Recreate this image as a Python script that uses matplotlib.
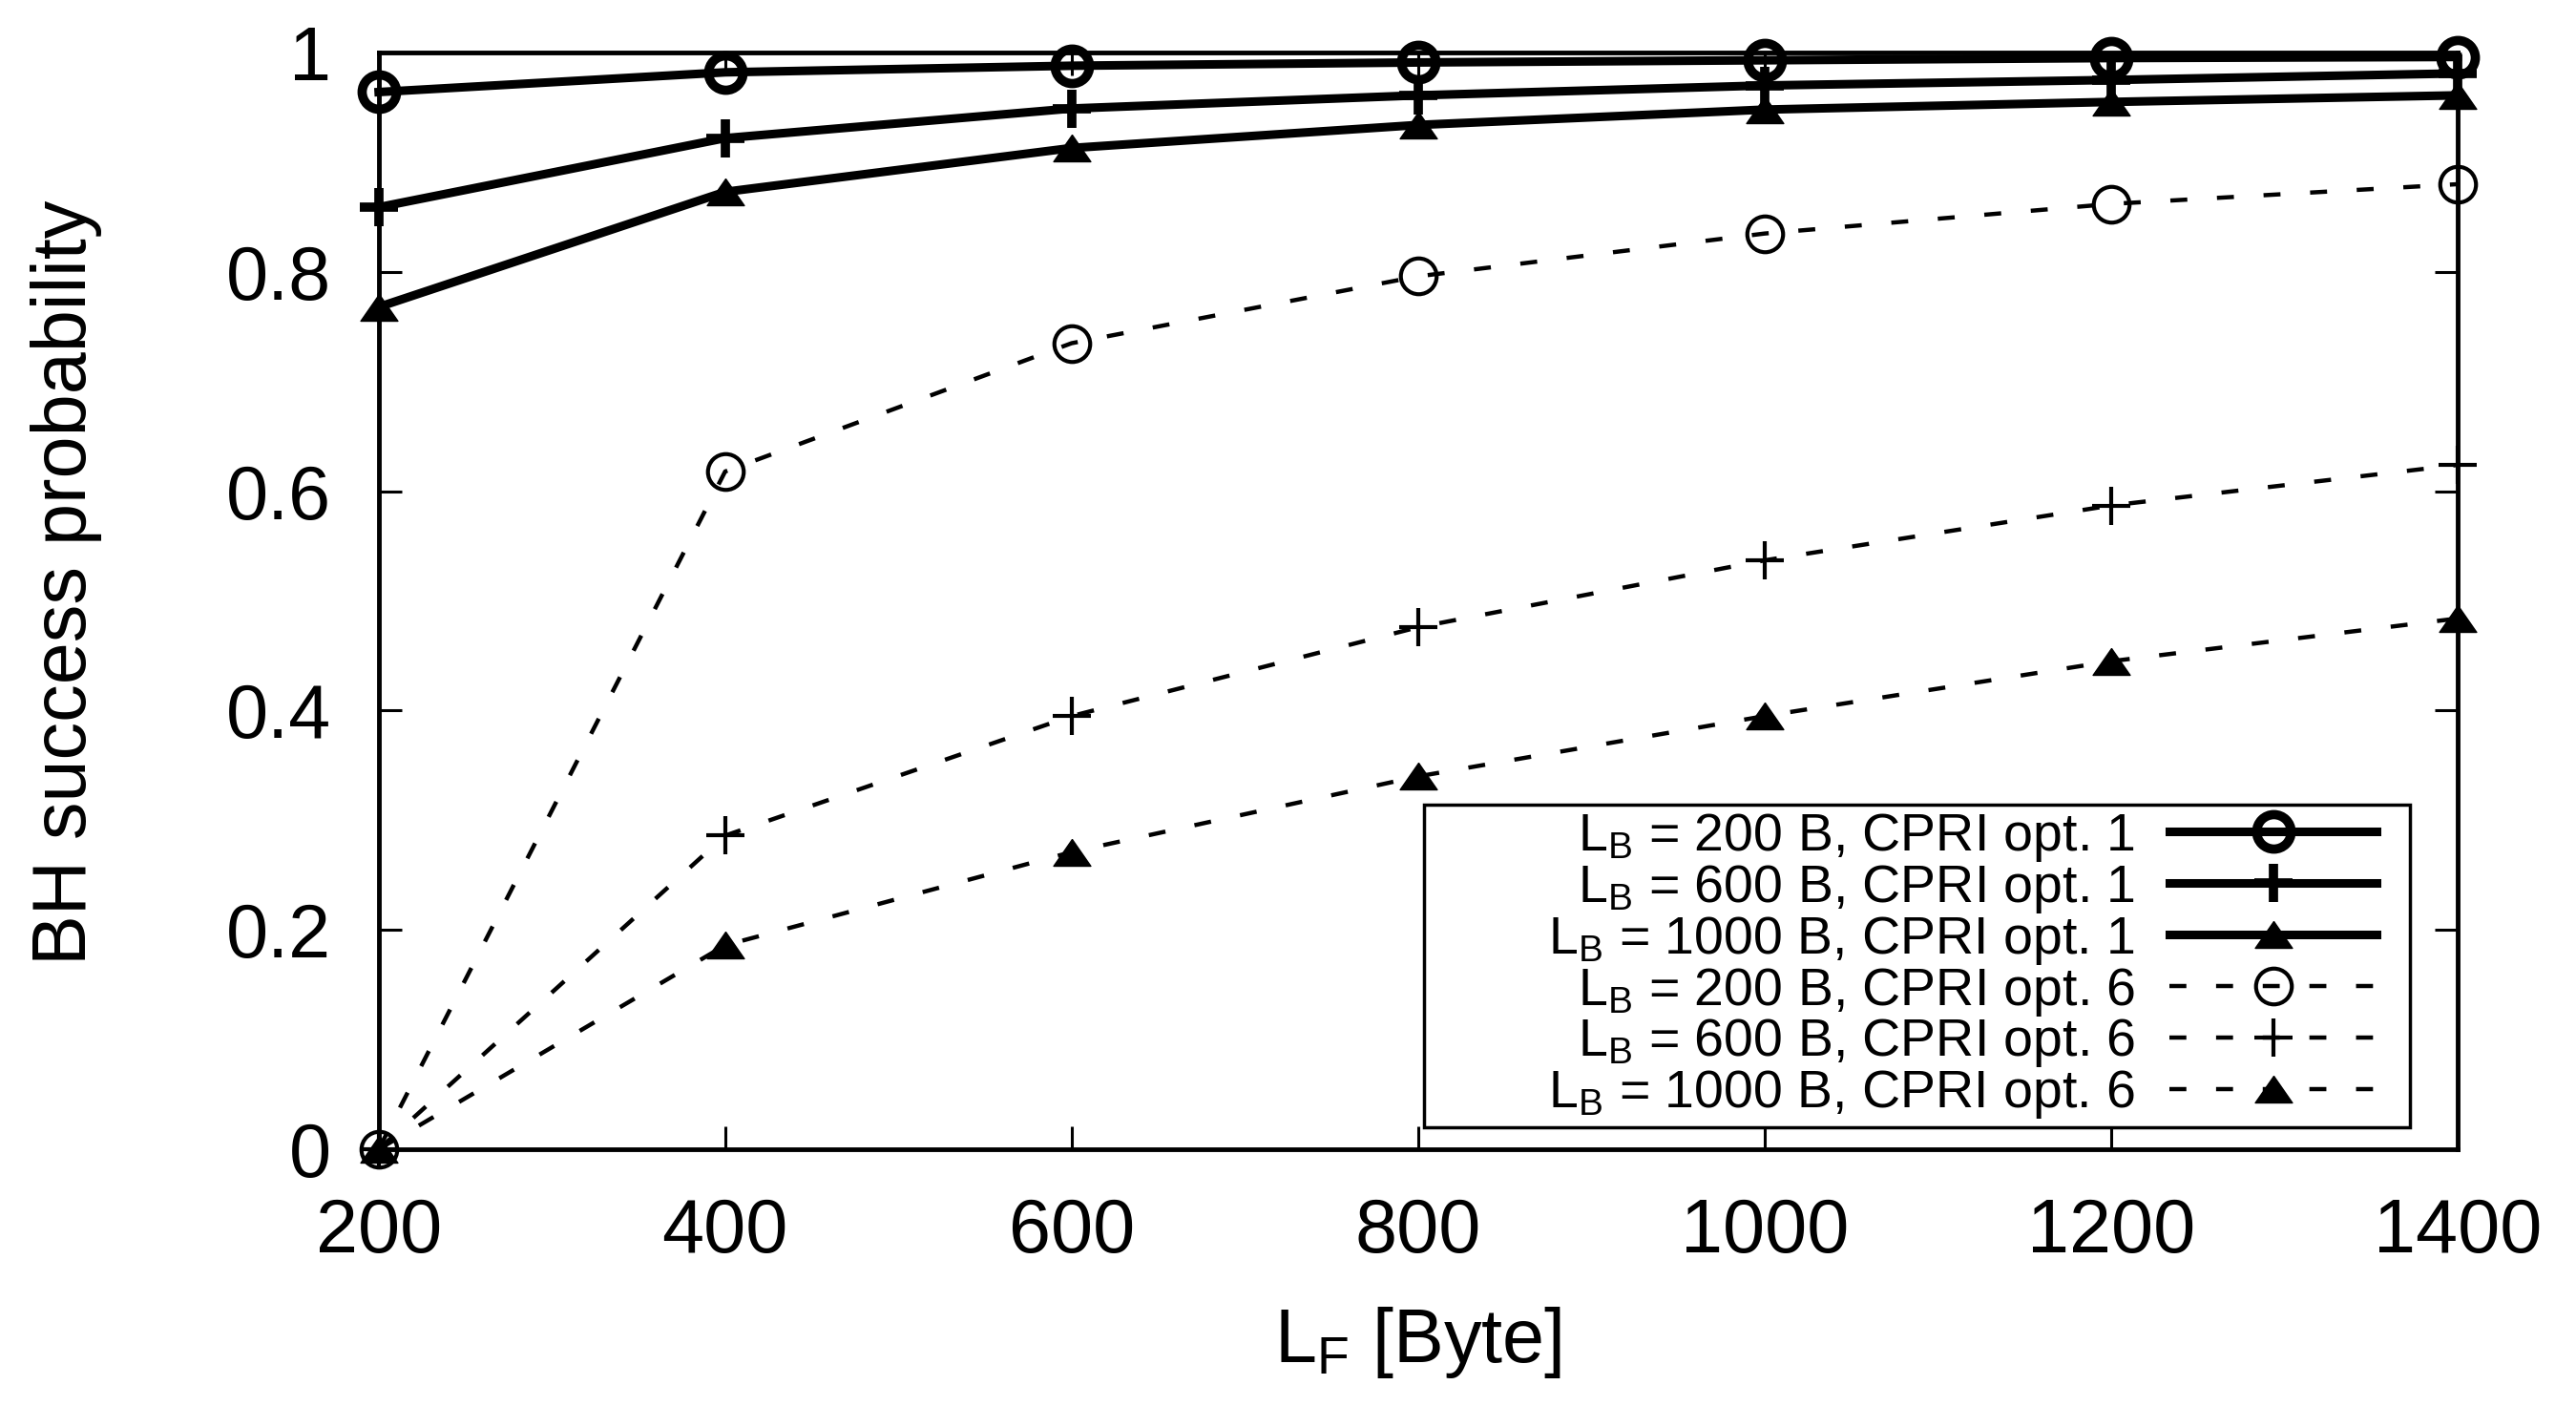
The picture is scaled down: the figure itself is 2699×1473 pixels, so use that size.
import matplotlib
matplotlib.use("Agg")
import matplotlib.pyplot as plt
from matplotlib.patches import Rectangle

plt.rcParams["font.family"] = ["Liberation Sans", "DejaVu Sans"]
plt.rcParams["mathtext.fontset"] = "custom"
plt.rcParams["mathtext.rm"] = "Liberation Sans"
plt.rcParams["mathtext.it"] = "Liberation Sans:italic"

# frame length L_F in bytes
frame_len = [200, 400, 600, 800, 1000, 1200, 1400]

# CPRI option 1
opt1_lb200 = [0.964, 0.982, 0.988, 0.991, 0.993, 0.995, 0.996]
opt1_lb600 = [0.859, 0.922, 0.949, 0.961, 0.970, 0.975, 0.981]
opt1_lb1000 = [0.768, 0.873, 0.913, 0.934, 0.948, 0.955, 0.961]

# CPRI option 6
opt6_lb200 = [0.0, 0.618, 0.735, 0.796, 0.835, 0.862, 0.880]
opt6_lb600 = [0.0, 0.286, 0.395, 0.476, 0.537, 0.587, 0.624]
opt6_lb1000 = [0.0, 0.186, 0.271, 0.340, 0.395, 0.445, 0.484]

labels = [
    r"$\mathrm{L_B}$ = 200 B, CPRI opt. 1",
    r"$\mathrm{L_B}$ = 600 B, CPRI opt. 1",
    r"$\mathrm{L_B}$ = 1000 B, CPRI opt. 1",
    r"$\mathrm{L_B}$ = 200 B, CPRI opt. 6",
    r"$\mathrm{L_B}$ = 600 B, CPRI opt. 6",
    r"$\mathrm{L_B}$ = 1000 B, CPRI opt. 6",
]

# wide, flat triangle like gnuplot's
tri = [(0, 0.72), (-1, -0.72), (1, -0.72), (0, 0.72)]

fig = plt.figure(figsize=(26.99, 14.73), dpi=100)
ax = fig.add_axes([0.147, 0.1826, 0.807, 0.780])

dash = (0, (4, 7))
ax.plot(frame_len, opt1_lb200, color="k", lw=6.5, marker="o", ms=26,
        mfc="none", mew=7, label=labels[0], clip_on=False, zorder=3)
ax.plot(frame_len, opt1_lb600, color="k", lw=6.5, marker="+", ms=29,
        mew=7, label=labels[1], clip_on=False, zorder=3)
ax.plot(frame_len, opt1_lb1000, color="k", lw=6.5, marker=tri, ms=28,
        mew=1, label=labels[2], clip_on=False, zorder=3)
ax.plot(frame_len, opt6_lb200, color="k", lw=3.2, ls=dash, marker="o", ms=27,
        mfc="none", mew=3, label=labels[3], clip_on=False, zorder=3)
ax.plot(frame_len, opt6_lb600, color="k", lw=3.2, ls=dash, marker="+", ms=29,
        mew=3, label=labels[4], clip_on=False, zorder=3)
ax.plot(frame_len, opt6_lb1000, color="k", lw=3.2, ls=dash, marker=tri, ms=28,
        mew=1, label=labels[5], clip_on=False, zorder=3)

ax.set_xlim(200, 1400)
ax.set_ylim(0, 1)
ax.set_xticks(frame_len)
ax.set_yticks([0, 0.2, 0.4, 0.6, 0.8, 1])
ax.set_yticklabels(["0", "0.2", "0.4", "0.6", "0.8", "1"])

for s in ax.spines.values():
    s.set_linewidth(3.5)
ax.tick_params(direction="in", length=17, width=2.2, labelsize=57,
               top=True, right=True)
ax.tick_params(axis="y", pad=36)
ax.tick_params(axis="x", pad=36)

ax.set_xlabel(r"$\mathrm{L_F}$ [Byte]", fontsize=57)
ax.set_ylabel("BH success probability", fontsize=57)
ax.xaxis.set_label_coords(0.5, -0.142)
ax.yaxis.set_label_coords(-0.133, 0.517)

# legend frame drawn by hand, gnuplot style
ax.add_patch(Rectangle((0.503, 0.020), 0.474, 0.2942, transform=ax.transAxes,
                       fill=False, lw=2.5, ec="k", zorder=4, clip_on=False))
leg = ax.legend(loc="center right", bbox_to_anchor=(0.961, 0.167),
                frameon=False, markerfirst=False, fontsize=40,
                handlelength=3.9, handletextpad=0.65, labelspacing=-0.02,
                borderpad=0, borderaxespad=0)
leg.set_zorder(5)

fig.savefig("out.png", dpi=100)
